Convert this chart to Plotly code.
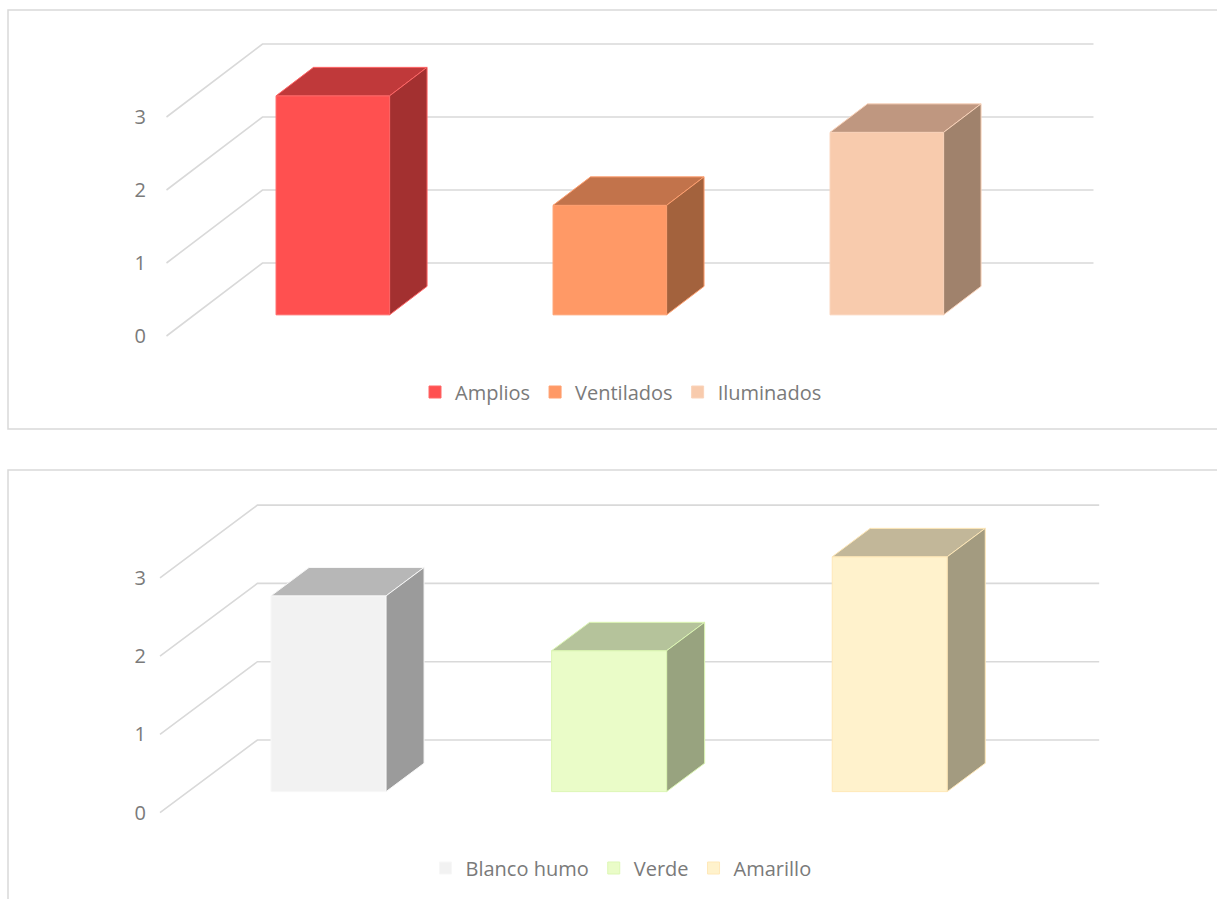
import plotly.graph_objects as go

# ---------------- data ----------------
cats_top = ["Amplios", "Ventilados", "Iluminados"]
vals_top = [3, 1.5, 2.5]

cats_bot = ["Blanco humo", "Verde", "Amarillo"]
vals_bot = [2.5, 1.8, 3]

tick_vals = [0, 1, 2, 3]
tick_text = ["0", "1", "2", "3"]

# ---------------- styles ----------------
front_top = ["#FF5050", "#FF9966", "#F8CBAD"]
top_top = ["#C0393A", "#C2734B", "#BF9780"]
side_top = ["#A33030", "#A3623D", "#A0826C"]
edge_top = ["#FF6666", "#FFA070", "#FAD3BA"]

front_bot = ["#F2F2F2", "#EAFCC8", "#FFF2CC"]
top_bot = ["#B7B7B7", "#B5C39B", "#C2B799"]
side_bot = ["#9B9B9B", "#98A37F", "#A39B80"]
edge_bot = ["#F7F7F7", "#DDF7B5", "#FFE8B8"]

W, H = 1217, 899
FONT = "Open Sans"
TXT = "#7a7a7a"
GRID = "#d9d9d9"
LEFT_PX = 147

# pixel geometry of each panel (oblique 3-D projection)
geo_top = dict(x0=166.5, ux=277.0, dx=96.0, y0=336.0, uy=73.0, dy=73.0, dom=(20, 420))
geo_bot = dict(x0=160.0, ux=280.6, dx=97.4, y0=812.7, uy=78.3, dy=72.7, dom=(478, 895))

BAR_W = 0.41      # fraction of category
D0 = 0.29         # depth where bar front sits
DD = 0.39         # bar depth

fig = go.Figure()


def add_panel(cats, vals, fronts, tops, sides, edges, geo, xa, ya, legend):
    dxu = geo["dx"] / geo["ux"]
    dyu = geo["dy"] / geo["uy"]
    n = len(cats)
    # bars (front faces) -- real bar traces
    for i, (c, v) in enumerate(zip(cats, vals)):
        xc = i + 0.5 + D0 * dxu
        base = D0 * dyu
        fig.add_trace(go.Bar(
            x=[xc], y=[v], base=[base], width=[BAR_W], name=c,
            marker=dict(color=fronts[i], line=dict(color=edges[i], width=1)),
            xaxis=xa, yaxis=ya, legend=legend, showlegend=True,
        ))
    # top and side faces
    for i, v in enumerate(vals):
        xl = i + 0.5 - BAR_W / 2 + D0 * dxu
        xr = xl + BAR_W
        b = D0 * dyu
        t = b + v
        ox, oy = DD * dxu, DD * dyu
        fig.add_trace(go.Scatter(
            x=[xl, xr, xr + ox, xl + ox, xl], y=[t, t, t + oy, t + oy, t],
            mode="lines", fill="toself", fillcolor=tops[i],
            line=dict(color=edges[i], width=1), hoverinfo="skip",
            showlegend=False, xaxis=xa, yaxis=ya,
        ))
        fig.add_trace(go.Scatter(
            x=[xr, xr + ox, xr + ox, xr, xr], y=[b, b + oy, t + oy, t, b],
            mode="lines", fill="toself", fillcolor=sides[i],
            line=dict(color=edges[i], width=1), hoverinfo="skip",
            showlegend=False, xaxis=xa, yaxis=ya,
        ))
    # gridlines: left wall diagonal + back wall horizontal
    for v in tick_vals:
        path = f"M 0 {v} L {dxu} {v + dyu} L {n + dxu} {v + dyu}"
        fig.add_shape(type="path", path=path, xref=xa, yref=ya,
                      line=dict(color=GRID, width=1.6), layer="below")
    # axes
    xr0 = (LEFT_PX - geo["x0"]) / geo["ux"]
    xr1 = (W - geo["x0"]) / geo["ux"]
    yr0 = (geo["y0"] - geo["dom"][1]) / geo["uy"]
    yr1 = (geo["y0"] - geo["dom"][0]) / geo["uy"]
    xkey = "xaxis" if xa == "x" else "xaxis" + xa[1:]
    ykey = "yaxis" if ya == "y" else "yaxis" + ya[1:]
    fig.update_layout(**{
        xkey: dict(domain=[LEFT_PX / W, 1], range=[xr0, xr1], anchor=ya,
                   showgrid=False, zeroline=False, showline=False,
                   showticklabels=False, ticks="", fixedrange=True),
        ykey: dict(domain=[1 - geo["dom"][1] / H, 1 - geo["dom"][0] / H],
                   range=[yr0, yr1], anchor=xa,
                   tickvals=tick_vals, ticktext=tick_text, ticks="",
                   showgrid=False, zeroline=False, showline=False,
                   tickfont=dict(family=FONT, size=20, color=TXT),
                   fixedrange=True),
    })


add_panel(cats_top, vals_top, front_top, top_top, side_top, edge_top,
          geo_top, "x", "y", "legend")
add_panel(cats_bot, vals_bot, front_bot, top_bot, side_bot, edge_bot,
          geo_bot, "x2", "y2", "legend2")

# chart-area borders
fig.add_shape(type="rect", xref="paper", yref="paper",
              x0=8 / W, x1=1.02, y0=1 - 429 / H, y1=1 - 10 / H,
              line=dict(color=GRID, width=1.5), layer="below")
fig.add_shape(type="rect", xref="paper", yref="paper",
              x0=8 / W, x1=1.02, y0=-0.05, y1=1 - 470 / H,
              line=dict(color=GRID, width=1.5), layer="below")

leg_common = dict(orientation="h", xanchor="center", yanchor="middle",
                  font=dict(family=FONT, size=20, color=TXT),
                  bgcolor="rgba(0,0,0,0)", traceorder="normal")

fig.update_layout(
    width=W, height=H, autosize=False,
    margin=dict(l=0, r=0, t=0, b=0),
    paper_bgcolor="white", plot_bgcolor="rgba(0,0,0,0)",
    barmode="overlay",
    font=dict(family=FONT, color=TXT),
    legend=dict(x=621 / W, y=1 - 392 / H, **leg_common),
    legend2=dict(x=621 / W, y=1 - 868 / H, **leg_common),
)

fig.write_html("out.html",
               config={"displayModeBar": False, "staticPlot": False},
               post_script="document.body.style.margin='0';document.body.style.overflow='hidden';")
